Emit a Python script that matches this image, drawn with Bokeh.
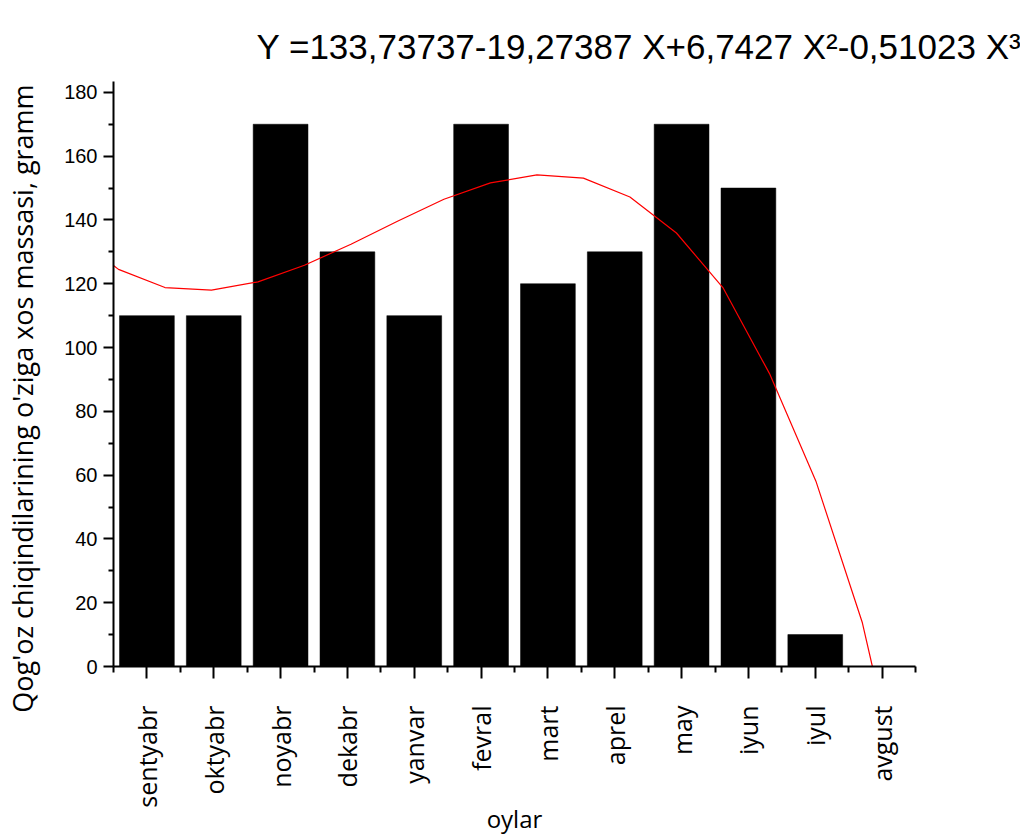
import math
from bokeh.plotting import figure
from bokeh.models import FixedTicker, Range1d, ColumnDataSource
from bokeh.embed import file_html
from bokeh.resources import INLINE

# ---- data ----
months = ["sentyabr", "oktyabr", "noyabr", "dekabr", "yanvar", "fevral",
          "mart", "aprel", "may", "iyun", "iyul", "avgust"]
mass = [110, 110, 170, 130, 110, 170, 120, 130, 170, 150, 10, 0]

# red fit curve, vertices (x in month-index units)
curve_x = [0.5, 0.575, 1.27, 1.966, 2.662, 3.357, 4.053, 4.749, 5.444, 6.14,
           6.836, 7.531, 8.227, 8.923, 9.618, 10.314, 11.01, 11.705, 11.855]
curve_y = [125.7, 124.5, 118.8, 118.0, 120.6, 125.8, 132.4, 139.6, 146.5, 151.6,
           154.1, 153.1, 147.2, 135.9, 118.8, 91.9, 58.1, 13.7, 0.0]

y_ticks = [0, 20, 40, 60, 80, 100, 120, 140, 160, 180]
y_minor = [10, 30, 50, 70, 90, 110, 130, 150, 170]

title_text = "Y =133,73737-19,27387 X+6,7427 X\u00b2-0,51023 X\u00b3"
y_label = "Qog'oz chiqindilarining o'ziga xos massasi, gramm"
x_label = "oylar"

positions = [i + 1 for i in range(len(months))]
src = ColumnDataSource(dict(x=positions, top=mass))

p = figure(width=1020, height=832, output_backend="svg", toolbar_location=None,
           x_range=Range1d(0.5, 12.5), y_range=Range1d(0, 183.4),
           min_border_left=113, min_border_right=105, min_border_top=81,
           min_border_bottom=166, frame_width=802, frame_height=585)

p.vbar(x="x", top="top", width=0.82, source=src, fill_color="black",
       line_color="black", line_width=0.5)
p.line(curve_x, curve_y, line_color="red", line_width=1.2)

p.xgrid.visible = False
p.ygrid.visible = False
p.outline_line_color = None
p.background_fill_color = "white"
p.border_fill_color = "white"

# title
p.title.text = title_text
p.title.text_font = "Liberation Sans"
p.title.text_font_size = "35px"
p.title.text_font_style = "normal"
p.title.text_color = "black"
p.title.align = "left"
p.title.offset = 143
p.title.standoff = 32

# x axis
xa = p.xaxis[0]
xa.ticker = FixedTicker(ticks=positions, minor_ticks=[0.5 + i for i in range(13)])
xa.major_label_overrides = {pos: m for pos, m in zip(positions, months)}
xa.major_label_orientation = math.pi / 2
xa.major_label_text_font = "Open Sans"
xa.major_label_text_font_size = "25px"
xa.major_label_text_color = "black"
xa.major_label_standoff = 27
xa.axis_label = x_label
xa.axis_label_text_font = "Open Sans"
xa.axis_label_text_font_size = "24px"
xa.axis_label_text_font_style = "normal"
xa.axis_label_text_color = "black"
xa.axis_label_standoff = -9
xa.axis_line_width = 2
xa.major_tick_line_width = 2
xa.minor_tick_line_width = 2
xa.major_tick_out = 12
xa.major_tick_in = 0
xa.minor_tick_out = 6
xa.minor_tick_in = 0
xa.axis_line_color = "black"

# y axis
ya = p.yaxis[0]
ya.ticker = FixedTicker(ticks=y_ticks, minor_ticks=y_minor)
ya.major_label_text_font = "Liberation Sans"
ya.major_label_text_font_size = "20px"
ya.major_label_text_color = "black"
ya.major_label_standoff = 6
# trailing no-break spaces push the visible title slightly down, as in the reference
ya.axis_label = y_label + "\u00a0" * 7
ya.axis_label_text_font = "Open Sans"
ya.axis_label_text_font_size = "27px"
ya.axis_label_text_font_style = "normal"
ya.axis_label_text_color = "black"
ya.axis_label_standoff = 20
ya.axis_line_width = 2
ya.major_tick_line_width = 2
ya.minor_tick_line_width = 2
ya.major_tick_out = 10
ya.major_tick_in = 0
ya.minor_tick_out = 5
ya.minor_tick_in = 0
ya.axis_line_color = "black"

open("out.html", "w").write(file_html(p, INLINE))
